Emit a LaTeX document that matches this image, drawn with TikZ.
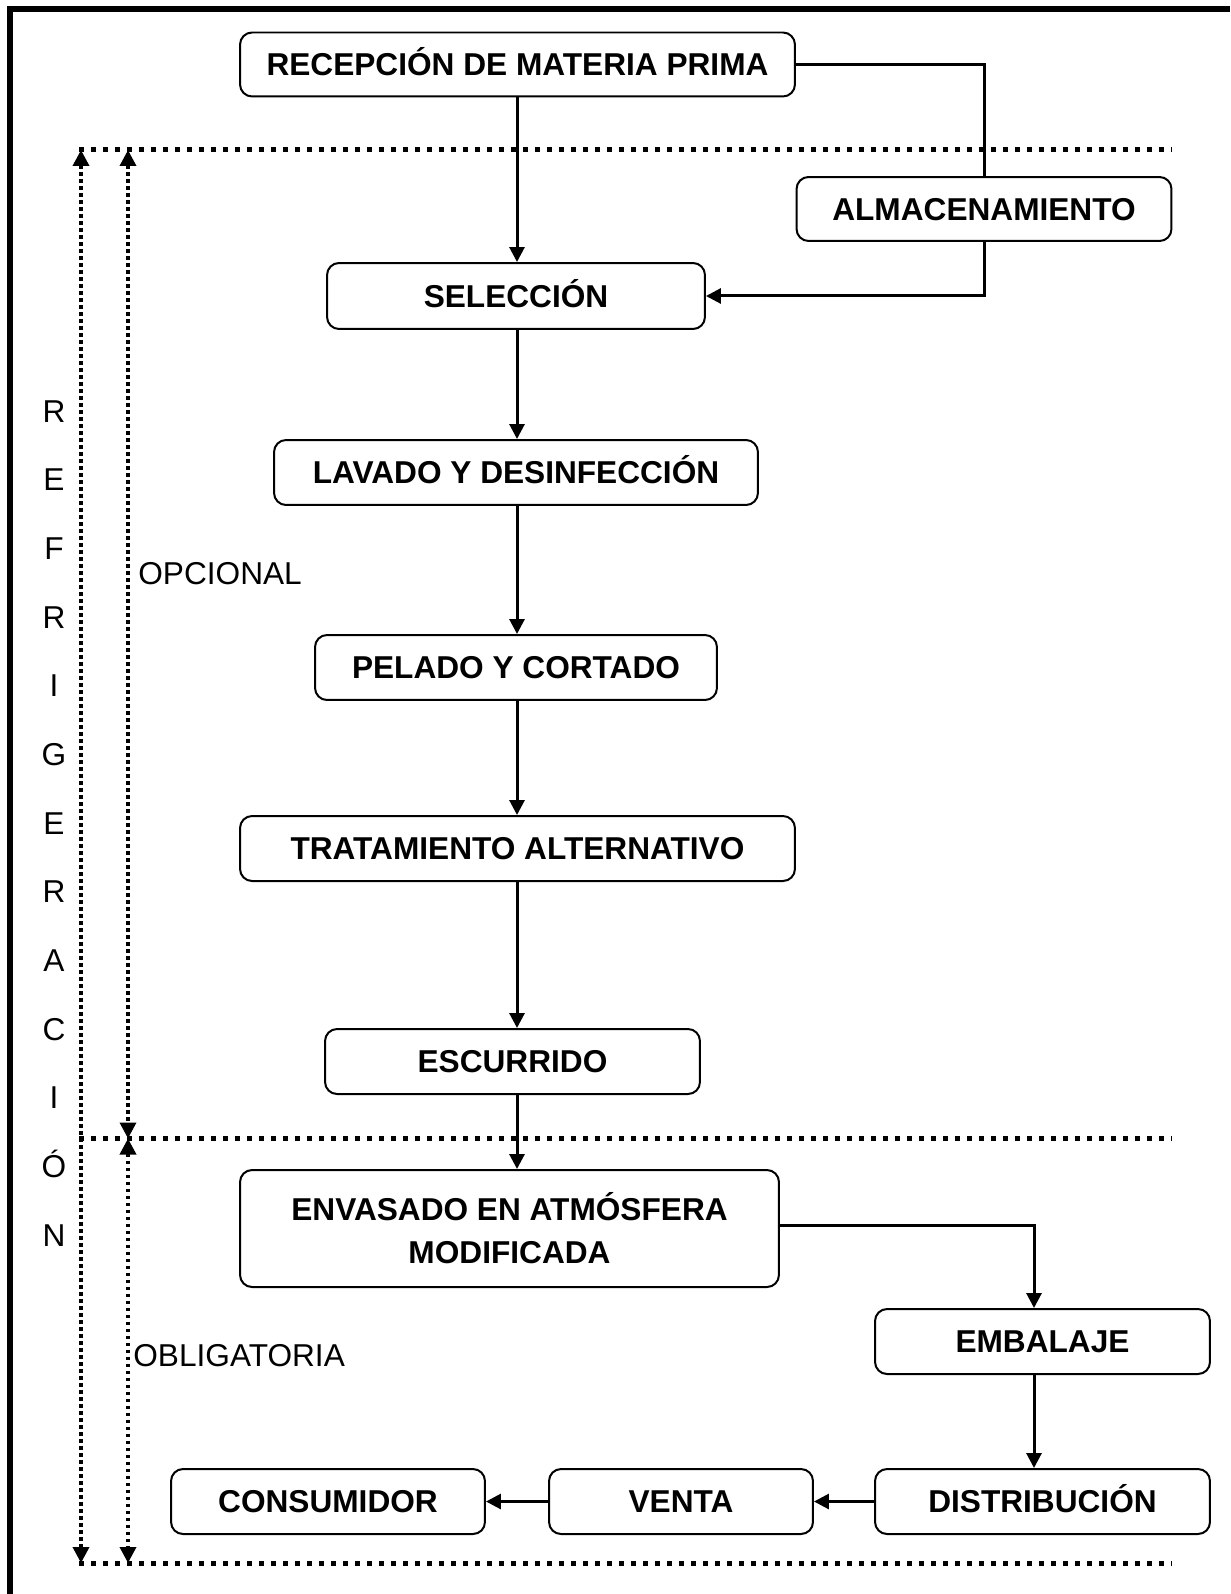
\documentclass[tikz,border=0pt]{standalone}
\usepackage{fontspec}
\setmainfont{Liberation Sans}
\usetikzlibrary{arrows.meta}

\begin{document}
\begin{tikzpicture}[x=0.02cm, y=-0.02cm,
  caja/.style={draw, rounded corners=0.24cm, line width=0.04cm, align=center, inner sep=0pt,
    font=\fontsize{18}{24.5}\selectfont\bfseries},
  paso/.style={caja, text height=12.9pt, text depth=0pt},
  linea/.style={line width=0.06cm},
  flecha/.style={line width=0.06cm, -{Triangle[length=0.3cm, width=0.3cm]}},
  puntos/.style={line width=0.1cm, dash pattern=on 0.1cm off 0.14cm},
  cota/.style={line width=0.07cm, dash pattern=on 0.07cm off 0.07cm,
    {Triangle[length=0.32cm, width=0.32cm]}-{Triangle[length=0.32cm, width=0.32cm]}},
  letra/.style={font=\fontsize{18}{22}\selectfont}]

\useasboundingbox (0,0) rectangle (1230,1594);

% marco
\draw[line width=0.12cm] (10,1594)--(10,9)--(1230,9);

% pasos
\node[paso, minimum width=11.1cm, minimum height=1.28cm] (recep) at (517.5,64.5) {RECEPCIÓN DE MATERIA PRIMA};
\node[paso, minimum width=7.5cm, minimum height=1.28cm] (almac) at (984,209) {ALMACENAMIENTO};
\node[paso, minimum width=7.56cm, minimum height=1.32cm] (selec) at (516,296) {SELECCIÓN};
\node[paso, minimum width=9.68cm, minimum height=1.3cm] (lavado) at (516,472.5) {LAVADO Y DESINFECCIÓN};
\node[paso, minimum width=8.04cm, minimum height=1.3cm] (pelado) at (516,667.5) {PELADO Y CORTADO};
\node[paso, minimum width=11.1cm, minimum height=1.3cm] (trat) at (517.5,848.5) {TRATAMIENTO ALTERNATIVO};
\node[paso, minimum width=7.5cm, minimum height=1.3cm] (escurr) at (512.5,1061.5) {ESCURRIDO};
\node[caja, minimum width=10.78cm, minimum height=2.34cm] (envas) at (509.5,1228.5) {ENVASADO EN ATMÓSFERA\\MODIFICADA};
\node[paso, minimum width=6.7cm, minimum height=1.3cm] (embal) at (1042.5,1341.5) {EMBALAJE};
\node[paso, minimum width=6.7cm, minimum height=1.3cm] (distr) at (1042.5,1501.5) {DISTRIBUCIÓN};
\node[paso, minimum width=5.28cm, minimum height=1.3cm] (venta) at (681,1501.5) {VENTA};
\node[paso, minimum width=6.28cm, minimum height=1.3cm] (consum) at (328,1501.5) {CONSUMIDOR};

\coordinate (eje) at (517,0);
\coordinate (bajada) at (1034,0);

% flechas
\draw[linea] (recep.east) -| (almac.north);
\draw[flecha] (almac.south) |- (selec.east);
\draw[flecha] (recep.south -| eje) -- (selec.north -| eje);
\draw[flecha] (selec.south -| eje) -- (lavado.north -| eje);
\draw[flecha] (lavado.south -| eje) -- (pelado.north -| eje);
\draw[flecha] (pelado.south -| eje) -- (trat.north -| eje);
\draw[flecha] (trat.south -| eje) -- (escurr.north -| eje);
\draw[flecha] (escurr.south -| eje) -- (envas.north -| eje);
\draw[flecha] ([yshift=0.07cm]envas.east) -| (embal.north -| bajada);
\draw[flecha] (embal.south -| bajada) -- (distr.north -| bajada);
\draw[flecha] (distr.west) -- (venta.east);
\draw[flecha] (venta.west) -- (consum.east);

% lineas de puntos
\coordinate (arriba) at (79,150);
\coordinate (medio) at (79,1138.5);
\coordinate (abajo) at (79,1563);
\draw[puntos] (arriba) -- ++(1092,0);
\draw[puntos] (medio) -- ++(1092,0);
\draw[puntos] (abajo) -- ++(1092,0);

\draw[cota] (81,150) -- (81,1563);
\draw[cota] (128,150) -- (128,1138.5);
\draw[cota] (128,1138.5) -- (128,1563);

% textos
\foreach \l [count=\i from 0] in {R,E,F,R,I,G,E,R,A,C,I,Ó,N}
  \node[letra, text height=12.9pt, text depth=0pt] (l\i) at (54,411+68.65*\i) {\l};

\node[letra, anchor=west, inner sep=0pt] (opc) at (138,574) {OPCIONAL};
\node[letra, anchor=west, inner sep=0pt] (obl) at (133,1356) {OBLIGATORIA};

\end{tikzpicture}
\end{document}
